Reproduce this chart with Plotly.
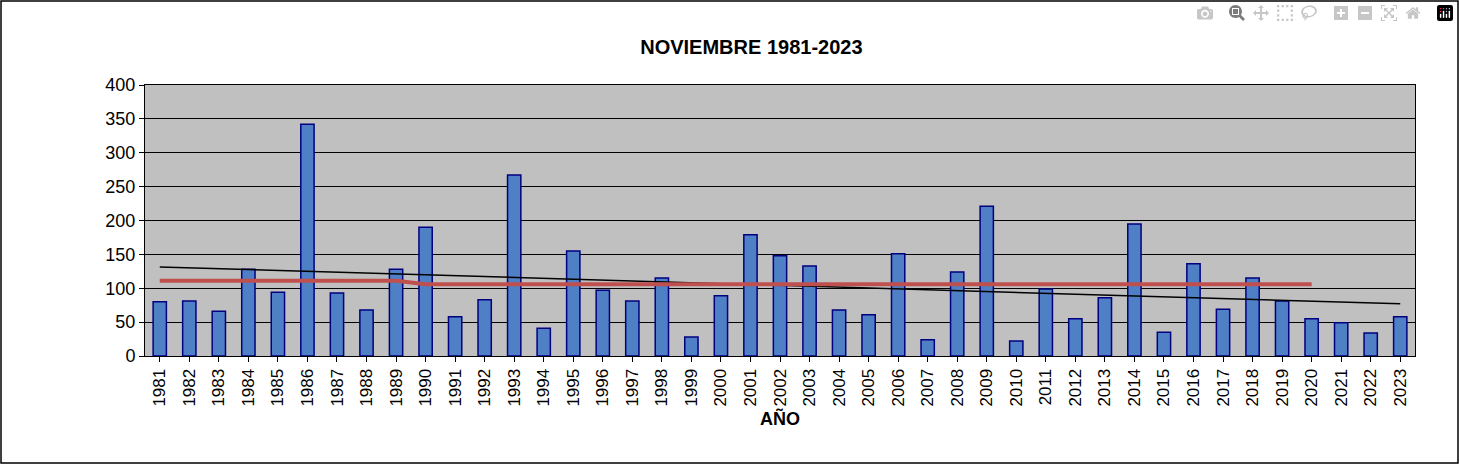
import plotly.graph_objects as go
import numpy as np

years = list(range(1981, 2024))
values = [80,81,66,128,94,342,93,68,128,190,58,83,267,41,155,97,81,115,28,89,
          179,148,133,68,61,151,24,124,221,22,99,55,86,195,35,136,69,115,81,55,
          49,34,58]
mean_years = list(range(1981, 2021))
mean_vals = [111]*9 + [106]*31

cats = [str(y) for y in years]
x = np.array(years, dtype=float)
m, b = np.polyfit(x, np.array(values, dtype=float), 1)
trend = list(m*x + b)

fig = go.Figure()
fig.add_bar(x=cats, y=values, width=0.45, marker=dict(color="#4F7FC4", line=dict(color="#000080", width=1.5)))
fig.add_scatter(x=cats, y=trend, mode="lines", line=dict(color="black", width=1.5))
fig.add_scatter(x=[str(y) for y in mean_years], y=mean_vals, mode="lines", line=dict(color="#C0504D", width=4))

fig.update_layout(
    width=1459, height=465, showlegend=False,
    paper_bgcolor="white", plot_bgcolor="#C0C0C0",
    margin=dict(l=145, r=44, t=85, b=109),
    font=dict(family="Arial, Liberation Sans", color="black", size=18),
    title=dict(text="<b>NOVIEMBRE 1981-2023</b>", x=0.515, xanchor="center", y=0.9, yanchor="middle", font=dict(size=20)),
    shapes=[dict(type="rect", xref="paper", yref="paper", x0=-144/1270, x1=1+43/1270, y0=-107/271, y1=1+84/271, line=dict(color="black", width=1.5))],
)
fig.update_xaxes(title=dict(text="<b>AÑO</b>", font=dict(size=18), standoff=6), tickangle=-90, showline=True, linecolor="black",
                 ticks="outside", tickcolor="black", mirror=True, tickfont=dict(size=17))
fig.update_yaxes(range=[0, 400], dtick=50, showgrid=True, gridcolor="black", gridwidth=1, showline=True, linecolor="black",
                 mirror=True, ticks="outside", tickcolor="black", tickfont=dict(size=18), zeroline=False)
fig.write_html("out.html", post_script="document.body.style.margin='0';document.body.style.overflow='hidden';")
